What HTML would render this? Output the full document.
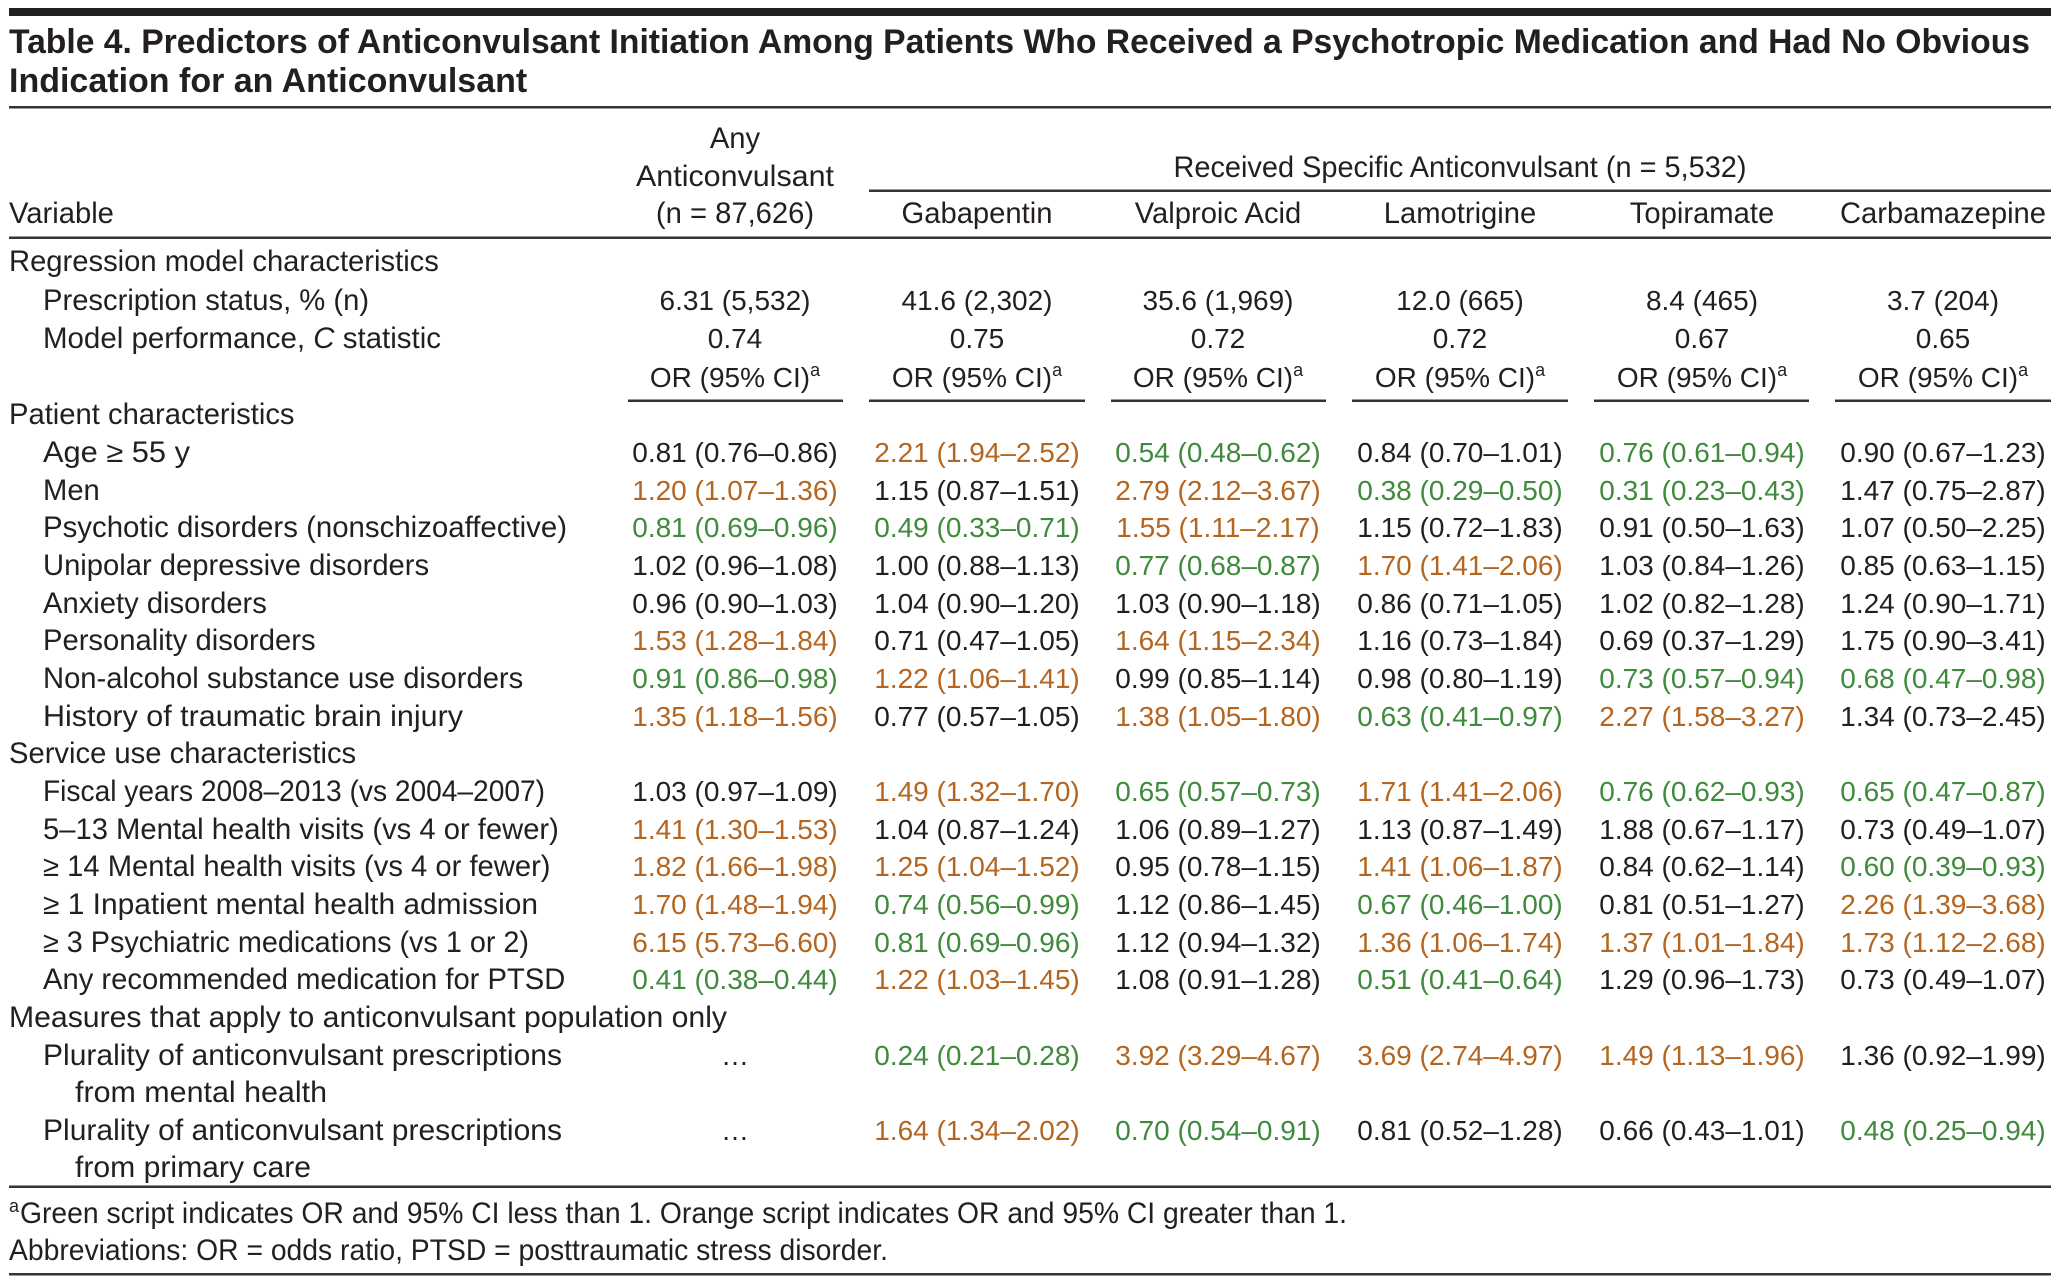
<!DOCTYPE html>
<html>
<head>
<meta charset="utf-8">
<style>
  html,body{margin:0;padding:0;background:#fff;}
  svg{display:block;}
  text{font-family:"Liberation Sans",Arial,sans-serif;fill:#231f20;}
  .t{font-size:34px;font-weight:bold;}
  .l{font-size:29.2px;}
  .h{font-size:29.2px;text-anchor:middle;}
  .d{font-size:28px;text-anchor:middle;}
  .o{fill:#b4651f;}
  .g{fill:#3f8a3c;}
  .f{font-size:29.2px;}
</style>
</head>
<body>
<svg width="2060" height="1284" viewBox="0 0 2060 1284" xmlns="http://www.w3.org/2000/svg">
<rect x="0" y="0" width="2060" height="1284" fill="#fff"/>
<!-- rules -->
<rect x="9" y="8" width="2042" height="8" fill="#231f20"/>
<rect x="9" y="106" width="2042" height="2.5" fill="#333"/>
<rect x="869" y="189.5" width="1182" height="2.5" fill="#333"/>
<rect x="9" y="236.5" width="2042" height="2.5" fill="#333"/>
<rect x="628" y="399.5" width="215" height="2.5" fill="#333"/>
<rect x="869" y="399.5" width="216" height="2.5" fill="#333"/>
<rect x="1111" y="399.5" width="215" height="2.5" fill="#333"/>
<rect x="1352" y="399.5" width="216" height="2.5" fill="#333"/>
<rect x="1594" y="399.5" width="215" height="2.5" fill="#333"/>
<rect x="1835" y="399.5" width="216" height="2.5" fill="#333"/>
<rect x="9" y="1185.5" width="2042" height="2.5" fill="#333"/>
<rect x="9" y="1273" width="2042" height="2.5" fill="#333"/>

<!-- title -->
<text class="t" x="9" y="53" textLength="2021" lengthAdjust="spacingAndGlyphs">Table 4. Predictors of Anticonvulsant Initiation Among Patients Who Received a Psychotropic Medication and Had No Obvious</text>
<text class="t" x="9" y="92">Indication for an Anticonvulsant</text>

<!-- header -->
<text class="h" x="735" y="148">Any</text>
<text class="h" x="735" y="186" textLength="198" lengthAdjust="spacingAndGlyphs">Anticonvulsant</text>
<text class="h" x="735" y="223">(n = 87,626)</text>
<text class="h" x="1460" y="177" textLength="573" lengthAdjust="spacingAndGlyphs">Received Specific Anticonvulsant (n = 5,532)</text>
<text class="l" x="9" y="223">Variable</text>
<text class="h" x="977" y="223">Gabapentin</text>
<text class="h" x="1218" y="223">Valproic Acid</text>
<text class="h" x="1460" y="223">Lamotrigine</text>
<text class="h" x="1702" y="223">Topiramate</text>
<text class="h" x="1943" y="223">Carbamazepine</text>

<!-- regression model -->
<text class="l" x="9" y="271">Regression model characteristics</text>
<text class="l" x="43" y="310">Prescription status, % (n)</text>
<text class="d" x="735" y="310">6.31 (5,532)</text>
<text class="d" x="977" y="310">41.6 (2,302)</text>
<text class="d" x="1218" y="310">35.6 (1,969)</text>
<text class="d" x="1460" y="310">12.0 (665)</text>
<text class="d" x="1702" y="310">8.4 (465)</text>
<text class="d" x="1943" y="310">3.7 (204)</text>
<text class="l" x="43" y="348" textLength="398" lengthAdjust="spacingAndGlyphs">Model performance, <tspan font-style="italic">C</tspan> statistic</text>
<text class="d" x="735" y="348">0.74</text>
<text class="d" x="977" y="348">0.75</text>
<text class="d" x="1218" y="348">0.72</text>
<text class="d" x="1460" y="348">0.72</text>
<text class="d" x="1702" y="348">0.67</text>
<text class="d" x="1943" y="348">0.65</text>
<text class="d" x="735" y="387">OR (95% CI)<tspan font-size="18" dy="-11">a</tspan></text>
<text class="d" x="977" y="387">OR (95% CI)<tspan font-size="18" dy="-11">a</tspan></text>
<text class="d" x="1218" y="387">OR (95% CI)<tspan font-size="18" dy="-11">a</tspan></text>
<text class="d" x="1460" y="387">OR (95% CI)<tspan font-size="18" dy="-11">a</tspan></text>
<text class="d" x="1702" y="387">OR (95% CI)<tspan font-size="18" dy="-11">a</tspan></text>
<text class="d" x="1943" y="387">OR (95% CI)<tspan font-size="18" dy="-11">a</tspan></text>

<!-- patient characteristics -->
<text class="l" x="9" y="424">Patient characteristics</text>

<text class="l" x="43" y="462" textLength="147" lengthAdjust="spacingAndGlyphs">Age ≥ 55 y</text>
<text class="d" x="735" y="462">0.81 (0.76–0.86)</text>
<text class="d o" x="977" y="462">2.21 (1.94–2.52)</text>
<text class="d g" x="1218" y="462">0.54 (0.48–0.62)</text>
<text class="d" x="1460" y="462">0.84 (0.70–1.01)</text>
<text class="d g" x="1702" y="462">0.76 (0.61–0.94)</text>
<text class="d" x="1943" y="462">0.90 (0.67–1.23)</text>

<text class="l" x="43" y="500">Men</text>
<text class="d o" x="735" y="500">1.20 (1.07–1.36)</text>
<text class="d" x="977" y="500">1.15 (0.87–1.51)</text>
<text class="d o" x="1218" y="500">2.79 (2.12–3.67)</text>
<text class="d g" x="1460" y="500">0.38 (0.29–0.50)</text>
<text class="d g" x="1702" y="500">0.31 (0.23–0.43)</text>
<text class="d" x="1943" y="500">1.47 (0.75–2.87)</text>

<text class="l" x="43" y="537" textLength="524" lengthAdjust="spacingAndGlyphs">Psychotic disorders (nonschizoaffective)</text>
<text class="d g" x="735" y="537">0.81 (0.69–0.96)</text>
<text class="d g" x="977" y="537">0.49 (0.33–0.71)</text>
<text class="d o" x="1218" y="537">1.55 (1.11–2.17)</text>
<text class="d" x="1460" y="537">1.15 (0.72–1.83)</text>
<text class="d" x="1702" y="537">0.91 (0.50–1.63)</text>
<text class="d" x="1943" y="537">1.07 (0.50–2.25)</text>

<text class="l" x="43" y="575">Unipolar depressive disorders</text>
<text class="d" x="735" y="575">1.02 (0.96–1.08)</text>
<text class="d" x="977" y="575">1.00 (0.88–1.13)</text>
<text class="d g" x="1218" y="575">0.77 (0.68–0.87)</text>
<text class="d o" x="1460" y="575">1.70 (1.41–2.06)</text>
<text class="d" x="1702" y="575">1.03 (0.84–1.26)</text>
<text class="d" x="1943" y="575">0.85 (0.63–1.15)</text>

<text class="l" x="43" y="613">Anxiety disorders</text>
<text class="d" x="735" y="613">0.96 (0.90–1.03)</text>
<text class="d" x="977" y="613">1.04 (0.90–1.20)</text>
<text class="d" x="1218" y="613">1.03 (0.90–1.18)</text>
<text class="d" x="1460" y="613">0.86 (0.71–1.05)</text>
<text class="d" x="1702" y="613">1.02 (0.82–1.28)</text>
<text class="d" x="1943" y="613">1.24 (0.90–1.71)</text>

<text class="l" x="43" y="650">Personality disorders</text>
<text class="d o" x="735" y="650">1.53 (1.28–1.84)</text>
<text class="d" x="977" y="650">0.71 (0.47–1.05)</text>
<text class="d o" x="1218" y="650">1.64 (1.15–2.34)</text>
<text class="d" x="1460" y="650">1.16 (0.73–1.84)</text>
<text class="d" x="1702" y="650">0.69 (0.37–1.29)</text>
<text class="d" x="1943" y="650">1.75 (0.90–3.41)</text>

<text class="l" x="43" y="688">Non-alcohol substance use disorders</text>
<text class="d g" x="735" y="688">0.91 (0.86–0.98)</text>
<text class="d o" x="977" y="688">1.22 (1.06–1.41)</text>
<text class="d" x="1218" y="688">0.99 (0.85–1.14)</text>
<text class="d" x="1460" y="688">0.98 (0.80–1.19)</text>
<text class="d g" x="1702" y="688">0.73 (0.57–0.94)</text>
<text class="d g" x="1943" y="688">0.68 (0.47–0.98)</text>

<text class="l" x="43" y="726" textLength="420" lengthAdjust="spacingAndGlyphs">History of traumatic brain injury</text>
<text class="d o" x="735" y="726">1.35 (1.18–1.56)</text>
<text class="d" x="977" y="726">0.77 (0.57–1.05)</text>
<text class="d o" x="1218" y="726">1.38 (1.05–1.80)</text>
<text class="d g" x="1460" y="726">0.63 (0.41–0.97)</text>
<text class="d o" x="1702" y="726">2.27 (1.58–3.27)</text>
<text class="d" x="1943" y="726">1.34 (0.73–2.45)</text>

<!-- service use -->
<text class="l" x="9" y="763">Service use characteristics</text>

<text class="l" x="43" y="801" textLength="502" lengthAdjust="spacingAndGlyphs">Fiscal years 2008–2013 (vs 2004–2007)</text>
<text class="d" x="735" y="801">1.03 (0.97–1.09)</text>
<text class="d o" x="977" y="801">1.49 (1.32–1.70)</text>
<text class="d g" x="1218" y="801">0.65 (0.57–0.73)</text>
<text class="d o" x="1460" y="801">1.71 (1.41–2.06)</text>
<text class="d g" x="1702" y="801">0.76 (0.62–0.93)</text>
<text class="d g" x="1943" y="801">0.65 (0.47–0.87)</text>

<text class="l" x="43" y="839">5–13 Mental health visits (vs 4 or fewer)</text>
<text class="d o" x="735" y="839">1.41 (1.30–1.53)</text>
<text class="d" x="977" y="839">1.04 (0.87–1.24)</text>
<text class="d" x="1218" y="839">1.06 (0.89–1.27)</text>
<text class="d" x="1460" y="839">1.13 (0.87–1.49)</text>
<text class="d" x="1702" y="839">1.88 (0.67–1.17)</text>
<text class="d" x="1943" y="839">0.73 (0.49–1.07)</text>

<text class="l" x="43" y="876">≥ 14 Mental health visits (vs 4 or fewer)</text>
<text class="d o" x="735" y="876">1.82 (1.66–1.98)</text>
<text class="d o" x="977" y="876">1.25 (1.04–1.52)</text>
<text class="d" x="1218" y="876">0.95 (0.78–1.15)</text>
<text class="d o" x="1460" y="876">1.41 (1.06–1.87)</text>
<text class="d" x="1702" y="876">0.84 (0.62–1.14)</text>
<text class="d g" x="1943" y="876">0.60 (0.39–0.93)</text>

<text class="l" x="43" y="914" textLength="495" lengthAdjust="spacingAndGlyphs">≥ 1 Inpatient mental health admission</text>
<text class="d o" x="735" y="914">1.70 (1.48–1.94)</text>
<text class="d g" x="977" y="914">0.74 (0.56–0.99)</text>
<text class="d" x="1218" y="914">1.12 (0.86–1.45)</text>
<text class="d g" x="1460" y="914">0.67 (0.46–1.00)</text>
<text class="d" x="1702" y="914">0.81 (0.51–1.27)</text>
<text class="d o" x="1943" y="914">2.26 (1.39–3.68)</text>

<text class="l" x="43" y="952" textLength="486" lengthAdjust="spacingAndGlyphs">≥ 3 Psychiatric medications (vs 1 or 2)</text>
<text class="d o" x="735" y="952">6.15 (5.73–6.60)</text>
<text class="d g" x="977" y="952">0.81 (0.69–0.96)</text>
<text class="d" x="1218" y="952">1.12 (0.94–1.32)</text>
<text class="d o" x="1460" y="952">1.36 (1.06–1.74)</text>
<text class="d o" x="1702" y="952">1.37 (1.01–1.84)</text>
<text class="d o" x="1943" y="952">1.73 (1.12–2.68)</text>

<text class="l" x="43" y="989">Any recommended medication for PTSD</text>
<text class="d g" x="735" y="989">0.41 (0.38–0.44)</text>
<text class="d o" x="977" y="989">1.22 (1.03–1.45)</text>
<text class="d" x="1218" y="989">1.08 (0.91–1.28)</text>
<text class="d g" x="1460" y="989">0.51 (0.41–0.64)</text>
<text class="d" x="1702" y="989">1.29 (0.96–1.73)</text>
<text class="d" x="1943" y="989">0.73 (0.49–1.07)</text>

<!-- measures -->
<text class="l" x="9" y="1027" textLength="718" lengthAdjust="spacingAndGlyphs">Measures that apply to anticonvulsant population only</text>

<text class="l" x="43" y="1065" textLength="519" lengthAdjust="spacingAndGlyphs">Plurality of anticonvulsant prescriptions</text>
<text class="d" x="735" y="1065">…</text>
<text class="d g" x="977" y="1065">0.24 (0.21–0.28)</text>
<text class="d o" x="1218" y="1065">3.92 (3.29–4.67)</text>
<text class="d o" x="1460" y="1065">3.69 (2.74–4.97)</text>
<text class="d o" x="1702" y="1065">1.49 (1.13–1.96)</text>
<text class="d" x="1943" y="1065">1.36 (0.92–1.99)</text>
<text class="l" x="75" y="1102" textLength="252" lengthAdjust="spacingAndGlyphs">from mental health</text>

<text class="l" x="43" y="1140" textLength="519" lengthAdjust="spacingAndGlyphs">Plurality of anticonvulsant prescriptions</text>
<text class="d" x="735" y="1140">…</text>
<text class="d o" x="977" y="1140">1.64 (1.34–2.02)</text>
<text class="d g" x="1218" y="1140">0.70 (0.54–0.91)</text>
<text class="d" x="1460" y="1140">0.81 (0.52–1.28)</text>
<text class="d" x="1702" y="1140">0.66 (0.43–1.01)</text>
<text class="d g" x="1943" y="1140">0.48 (0.25–0.94)</text>
<text class="l" x="75" y="1177" textLength="236" lengthAdjust="spacingAndGlyphs">from primary care</text>

<!-- footnotes -->
<text x="9" y="1212" font-size="18">a</text>
<text class="f" x="20" y="1223" textLength="1327" lengthAdjust="spacingAndGlyphs">Green script indicates OR and 95% CI less than 1. Orange script indicates OR and 95% CI greater than 1.</text>
<text class="f" x="9" y="1260" textLength="879" lengthAdjust="spacingAndGlyphs">Abbreviations: OR = odds ratio, PTSD = posttraumatic stress disorder.</text>
</svg>
</body>
</html>
